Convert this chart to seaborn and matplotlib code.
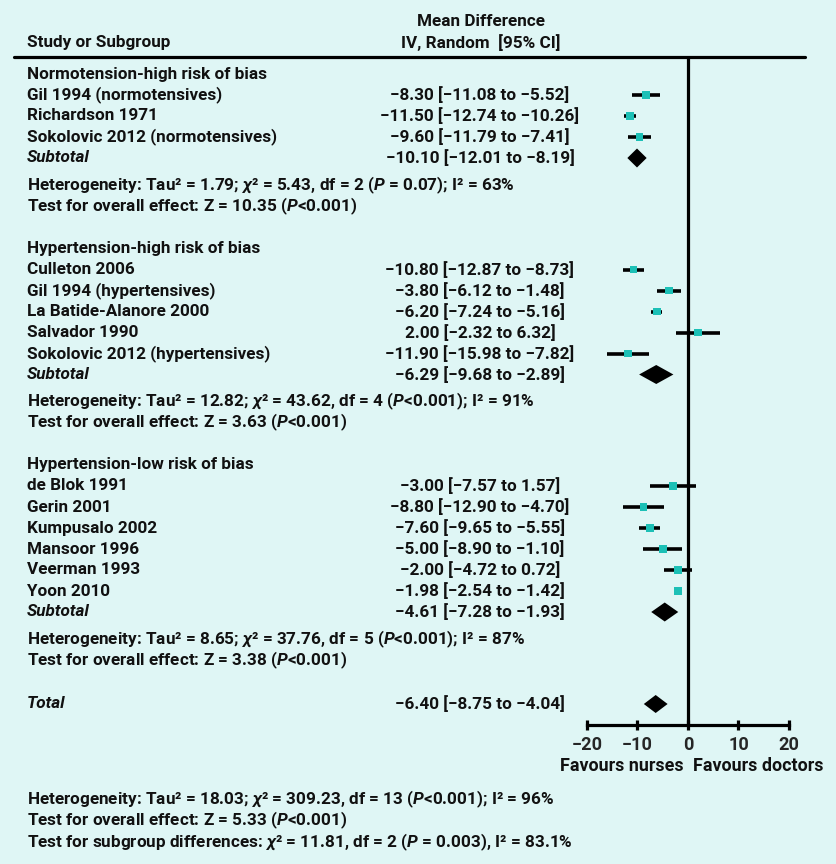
import numpy as np
import pandas as pd
import matplotlib
matplotlib.use("Agg")
import matplotlib.pyplot as plt
import seaborn as sns

# ---- du lieu ----
group_names = ["Normotension-high risk of bias",
               "Hypertension-high risk of bias",
               "Hypertension-low risk of bias"]

studies_1 = ["Gil 1994 (normotensives)", "Richardson 1971", "Sokolovic 2012 (normotensives)"]
md_1 = [-8.30, -11.50, -9.60]
lo_1 = [-11.08, -12.74, -11.79]
hi_1 = [-5.52, -10.26, -7.41]

studies_2 = ["Culleton 2006", "Gil 1994 (hypertensives)", "La Batide-Alanore 2000",
             "Salvador 1990", "Sokolovic 2012 (hypertensives)"]
md_2 = [-10.80, -3.80, -6.20, 2.00, -11.90]
lo_2 = [-12.87, -6.12, -7.24, -2.32, -15.98]
hi_2 = [-8.73, -1.48, -5.16, 6.32, -7.82]

studies_3 = ["de Blok 1991", "Gerin 2001", "Kumpusalo 2002", "Mansoor 1996",
             "Veerman 1993", "Yoon 2010"]
md_3 = [-3.00, -8.80, -7.60, -5.00, -2.00, -1.98]
lo_3 = [-7.57, -12.90, -9.65, -8.90, -4.72, -2.54]
hi_3 = [1.57, -4.70, -5.55, -1.10, 0.72, -1.42]

sub_md = [-10.10, -6.29, -4.61]
sub_lo = [-12.01, -9.68, -7.28]
sub_hi = [-8.19, -2.89, -1.93]

het_text = ["Heterogeneity: Tau² = 1.79; $\\chi$² = 5.43, df = 2 ($P$ = 0.07); I² = 63%",
            "Heterogeneity: Tau² = 12.82; $\\chi$² = 43.62, df = 4 ($P$<0.001); I² = 91%",
            "Heterogeneity: Tau² = 8.65; $\\chi$² = 37.76, df = 5 ($P$<0.001); I² = 87%"]
test_text = ["Test for overall effect: Z = 10.35 ($P$<0.001)",
             "Test for overall effect: Z = 3.63 ($P$<0.001)",
             "Test for overall effect: Z = 3.38 ($P$<0.001)"]

total_md, total_lo, total_hi = -6.40, -8.75, -4.04

footer_text = ["Heterogeneity: Tau² = 18.03; $\\chi$² = 309.23, df = 13 ($P$<0.001); I² = 96%",
               "Test for overall effect: Z = 5.33 ($P$<0.001)",
               "Test for subgroup differences: $\\chi$² = 11.81, df = 2 ($P$ = 0.003), I² = 83.1%"]

x_ticks = [-20, -10, 0, 10, 20]

# ---- style ----
sns.set_theme(style="white")
bg = "#dff6f5"
teal = "#1cc0b6"
plt.rcParams["font.family"] = ["Roboto", "DejaVu Sans"]
plt.rcParams["font.weight"] = "bold"
plt.rcParams["mathtext.fontset"] = "custom"
plt.rcParams["mathtext.rm"] = "Roboto:bold"
plt.rcParams["mathtext.it"] = "Roboto:italic:bold"
plt.rcParams["mathtext.bf"] = "Roboto:bold"
fs = 12.3

W, H = 837, 864
fig = plt.figure(figsize=(W / 100, H / 100), dpi=100, facecolor=bg)

# truc nen: toa do = pixel
ax_bg = fig.add_axes([0, 0, 1, 1])
ax_bg.set_xlim(0, W)
ax_bg.set_ylim(H, 0)
ax_bg.axis("off")

# truc forest: x = mean difference, y = pixel
zero_px, ppu = 688, 5.05
x0_px, x1_px = 540, W
ax = fig.add_axes([x0_px / W, 0, (x1_px - x0_px) / W, 1])
ax.set_facecolor("none")

def fmt(m, l, h):
    return f"{m:.2f} [{l:.2f} to {h:.2f}]".replace("-", "\u2212")

def txt(x, y, s, size=fs, **kw):
    ax_bg.text(x, y, s, fontsize=size, fontweight="bold", va="center", color="#111111", **kw)

name_x, val_x = 27, 480
txt(27, 43, "Study or Subgroup")
txt(481, 21, "Mean Difference", ha="center")
txt(481, 43, "IV, Random  [95% CI]", ha="center")
ax_bg.axhline(57, xmin=14 / W, xmax=805 / W, color="black", lw=2.3)

groups = [(studies_1, md_1, lo_1, hi_1), (studies_2, md_2, lo_2, hi_2), (studies_3, md_3, lo_3, hi_3)]
step = 21.0
y = 74.0
rows = []
for g, (names, md, lo, hi) in enumerate(groups):
    txt(name_x, y, group_names[g])
    for n, m, l, h in zip(names, md, lo, hi):
        y += step
        txt(name_x, y, n)
        txt(val_x, y, fmt(m, l, h), ha="center")
        rows.append({"md": m, "lo": l, "hi": h, "y": y})
    y += step
    txt(name_x, y, "Subtotal", style="italic")
    txt(val_x, y, fmt(sub_md[g], sub_lo[g], sub_hi[g]), ha="center")
    d = 9.5
    ax.fill([sub_lo[g], sub_md[g], sub_hi[g], sub_md[g]], [y, y - d, y, y + d],
            color="black", lw=0, zorder=4)
    y += 27
    txt(name_x, y, het_text[g])
    y += 21
    txt(name_x, y, test_text[g])
    y += 42.5

y_total = y - 42.5 + 44
txt(name_x, y_total, "Total", style="italic")
txt(val_x, y_total, fmt(total_md, total_lo, total_hi), ha="center")
ax.fill([total_lo, total_md, total_hi, total_md],
        [y_total, y_total - 9, y_total, y_total + 9], color="black", lw=0, zorder=4)

df = pd.DataFrame(rows)
ax.hlines(df["y"], df["lo"], df["hi"], color="black", lw=2.6, zorder=2)
sns.scatterplot(data=df, x="md", y="y", ax=ax, marker="s", s=32, color=teal,
                edgecolor="none", zorder=3, legend=False)

axis_y = 725
ax.vlines(0, 57, axis_y, color="black", lw=2.3, zorder=1)

ax.set_xlim((x0_px - zero_px) / ppu, (x1_px - zero_px) / ppu)
ax.set_ylim(H, 0)
ax.set_xlabel("")
ax.set_ylabel("")
ax.set_yticks([])
for s in ["left", "right", "top"]:
    ax.spines[s].set_visible(False)
ax.spines["bottom"].set_position(("data", axis_y))
ax.spines["bottom"].set_bounds(-20, 20)
ax.spines["bottom"].set_linewidth(2.3)
ax.spines["bottom"].set_color("black")
ax.set_xticks(x_ticks)
ax.set_xticklabels([str(t).replace("-", "\u2212") for t in x_ticks],
                   fontsize=fs + 0.8, fontweight="bold")
ax.tick_params(axis="x", direction="inout", length=7.5, width=2.3, color="black",
               pad=4, bottom=True)

txt(622, 766, "Favours nurses", size=fs + 0.6, ha="center")
txt(758, 766, "Favours doctors", size=fs + 0.6, ha="center")

for i, s in enumerate(footer_text):
    txt(name_x, 799 + 21.5 * i, s)

plt.savefig("out.png", dpi=100, facecolor=bg)
